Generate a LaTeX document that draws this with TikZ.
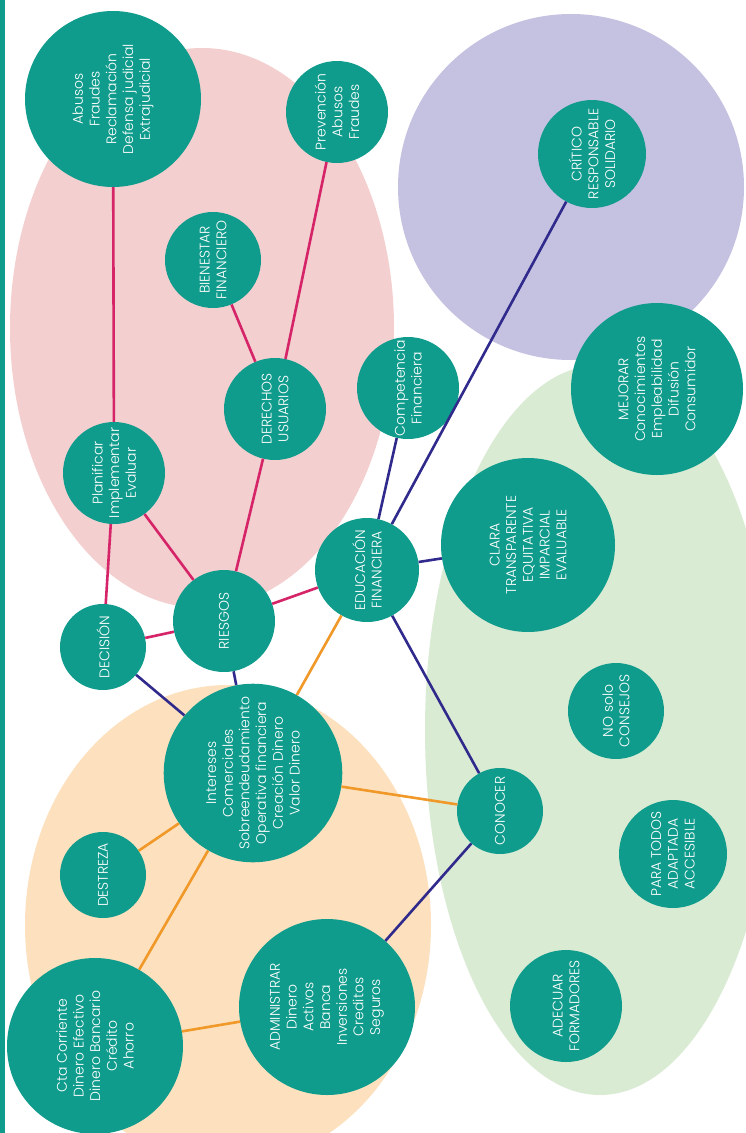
\documentclass[tikz,border=0pt]{standalone}
\usepackage{fontspec}
\setmainfont{Poppins}[UprightFont={* Light}]
\definecolor{verdeazul}{RGB}{16,156,140}
\definecolor{rosaFondo}{RGB}{243,207,207}
\definecolor{lilaFondo}{RGB}{197,193,225}
\definecolor{verdeFondo}{RGB}{218,235,212}
\definecolor{naranjaFondo}{RGB}{253,225,190}
\definecolor{lineaRosa}{RGB}{214,36,104}
\definecolor{lineaAzul}{RGB}{48,42,140}
\definecolor{lineaNaranja}{RGB}{240,152,40}
\newcommand{\letraBurbuja}[0]{\fontsize{14}{16.7}\selectfont}

\begin{document}
\begin{tikzpicture}[x=1pt, y=-1pt]
  \tikzset{burbuja/.style={circle, fill=verdeazul, text=white, inner sep=0pt,
      align=center, rotate=90, font=\letraBurbuja}}
  \tikzset{rosa/.style={draw=lineaRosa, line width=2.6pt},
    azul/.style={draw=lineaAzul, line width=2.6pt},
    naranja/.style={draw=lineaNaranja, line width=2.6pt}}
  \useasboundingbox (0,0) rectangle (745,1133);
  \fill[white] (0,0) rectangle (745,1133);
  \fill[verdeazul] (0,0) rectangle (5,1133);
  \fill[rosaFondo] (202,328) ellipse [x radius=192, y radius=280];
  \fill[lilaFondo] (571,187) circle [radius=173];
  \fill[verdeFondo] (600,730) ellipse [x radius=175, y radius=365];
  \fill[naranjaFondo] (228,925) ellipse [x radius=203, y radius=240];

  \node[burbuja, minimum size=176] (abusos) at (113,99)
    {Abusos\\Fraudes\\Reclamación\\Defensa judicial\\Extrajudicial};
  \node[burbuja, minimum size=102] (prevencion) at (337,112) {Prevención\\Abusos\\Fraudes};
  \node[burbuja, minimum size=96] (bienestar) at (213,260) {BIENESTAR\\FINANCIERO};
  \node[burbuja, minimum size=108] (critico) at (592,154) {CRÍTICO\\RESPONSABLE\\SOLIDARIO};
  \node[burbuja, minimum size=102] (competencia) at (408,388) {Competencia\\Financiera};
  \node[burbuja, minimum size=102] (derechos) at (275,409) {DERECHOS\\USUARIOS};
  \node[burbuja, minimum size=102] (planificar) at (114,473) {Planificar\\Implementar\\Evaluar};
  \node[burbuja, minimum size=102] (riesgos) at (224,621) {RIESGOS};
  \node[burbuja, minimum size=86] (decision) at (103,647) {DECISIÓN};
  \node[burbuja, minimum size=104] (educacion) at (367,570) {EDUCACIÓN\\FINANCIERA};
  \node[burbuja, minimum size=174] (clara) at (528,545)
    {CLARA\\TRANSPARENTE\\EQUITATIVA\\IMPARCIAL\\EVALUABLE};
  \node[burbuja, minimum size=172] (mejorar) at (657,389)
    {MEJORAR\\Conocimientos\\Empleabilidad\\Difusión\\Consumidor};
  \node[burbuja, minimum size=176] (intereses) at (253,773)
    {Intereses\\Comerciales\\Sobreendeudamiento\\Operativa financiera\\Creación Dinero\\Valor Dinero};
  \node[burbuja, minimum size=86] (destreza) at (103,875) {DESTREZA};
  \node[burbuja, minimum size=176] (cuenta) at (95,1046)
    {Cta Corriente\\Dinero Efectivo\\Dinero Bancario\\Crédito\\Ahorro};
  \node[burbuja, minimum size=176] (administrar) at (327,1007)
    {ADMINISTRAR\\Dinero\\Activos\\Banca\\Inversiones\\Creditos\\Seguros};
  \node[burbuja, minimum size=86] (conocer) at (500,811) {CONOCER};
  \node[burbuja, minimum size=96] (consejos) at (616,711) {NO solo\\CONSEJOS};
  \node[burbuja, minimum size=108] (paratodos) at (673,854) {PARA TODOS\\ADAPTADA\\ACCESIBLE};
  \node[burbuja, minimum size=112] (adecuar) at (566,1006) {ADECUAR\\FORMADORES};

  \draw[rosa] (abusos) -- (planificar);
  \draw[rosa] (planificar) -- (decision);
  \draw[rosa] (planificar) -- (riesgos);
  \draw[rosa] (riesgos) -- (decision);
  \draw[rosa] (riesgos) -- (derechos);
  \draw[rosa] (derechos) -- (bienestar);
  \draw[rosa] (derechos) -- (prevencion);
  \draw[rosa] (riesgos) -- (educacion);

  \draw[azul] (decision) -- (intereses);
  \draw[azul] (riesgos) -- (intereses);
  \draw[azul] (educacion) -- (competencia);
  \draw[azul] (educacion) -- (critico);
  \draw[azul] (educacion) -- (clara);
  \draw[azul] (educacion) -- (conocer);
  \draw[azul] (conocer) -- (administrar);

  \draw[naranja] (educacion) -- (intereses);
  \draw[naranja] (intereses) -- (conocer);
  \draw[naranja] (intereses) -- (destreza);
  \draw[naranja] (intereses) -- (cuenta);
  \draw[naranja] (cuenta) -- (administrar);
\end{tikzpicture}
\end{document}
